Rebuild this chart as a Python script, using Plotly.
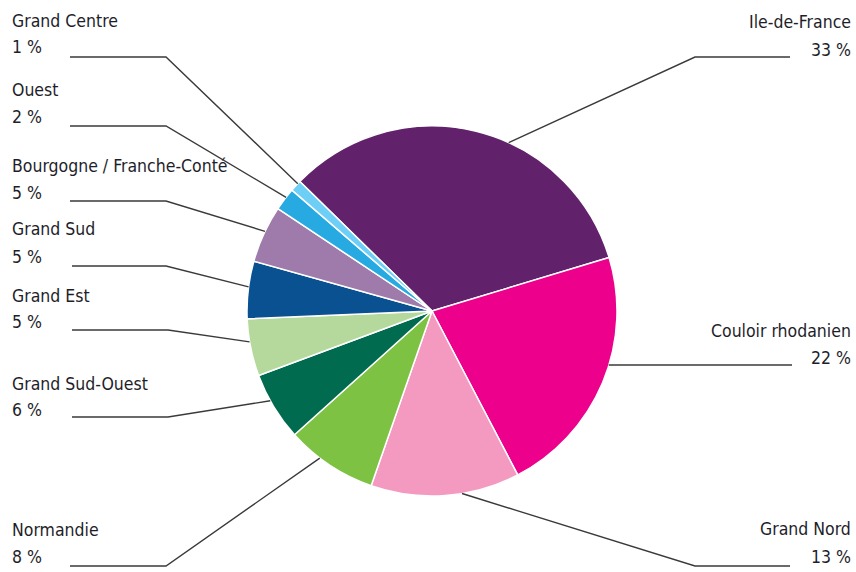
import math
import plotly.graph_objects as go

# ---- data ----
regions = ["Ile-de-France", "Couloir rhodanien", "Grand Nord", "Normandie",
           "Grand Sud-Ouest", "Grand Est", "Grand Sud",
           "Bourgogne / Franche-Conté", "Ouest", "Grand Centre"]
shares = [33, 22, 13, 8, 6, 5, 5, 5, 2, 1]
colors = ["#62226b", "#ec008c", "#f49ac1", "#7dc242", "#006b4f",
          "#b5d99c", "#0a5192", "#9e7bab", "#27aae1", "#6dcff6"]

# ---- layout ----
W, H = 856, 572
CX, CY, R = 432, 311, 185
ROT = -45.6  # start angle of first slice, degrees clockwise from top

# label layout: (side, text x, name y, pct y, line y, elbow x, line end x, anchor fraction in slice)
label_layout = {
    "Grand Centre":              ("left", 10, 21, 47, 57, 166, 70, 0.75),
    "Ouest":                     ("left", 10, 90, 117, 126, 166, 70, 0.6),
    "Bourgogne / Franche-Conté": ("left", 10, 166, 193, 201, 166, 70, 0.55),
    "Grand Sud":                 ("left", 10, 229, 257, 266, 166, 72, 0.55),
    "Grand Est":                 ("left", 10, 296, 322, 330, 168, 72, 0.6),
    "Grand Sud-Ouest":           ("left", 10, 384, 410, 417, 168, 72, 0.6),
    "Normandie":                 ("left", 10, 530, 557, 566, 166, 70, 0.63),
    "Ile-de-France":             ("right", 853, 22, 50, 57, 695, 790, 0.59),
    "Couloir rhodanien":         ("right", 853, 331, 358, 365, None, 792, 0.43),
    "Grand Nord":                ("right", 853, 529, 557, 566, 695, 790, 0.39),
}

def px(x):
    return x / W

def py(y):
    return 1 - y / H

fig = go.Figure(go.Pie(
    labels=regions, values=shares, sort=False, direction="clockwise",
    rotation=ROT, textinfo="none", hoverinfo="label+percent",
    marker=dict(colors=colors, line=dict(color="white", width=1.5)),
    domain=dict(x=[px(CX - R), px(CX + R)], y=[py(CY + R), py(CY - R)]),
    showlegend=False,
))

font = dict(family="'DejaVu Sans Condensed', 'DejaVu Sans', sans-serif",
            size=17.5, color="#1e1e2a")

total = sum(shares)
cum = 0
shapes = []
annotations = []
for name, val in zip(regions, shares):
    a0 = ROT + cum / total * 360
    a1 = ROT + (cum + val) / total * 360
    cum += val
    side, tx, ny, pyv, ly, ex, lx, frac = label_layout[name]
    ang = math.radians(a0 + frac * (a1 - a0))
    sx = CX + R * math.sin(ang)
    sy = CY - R * math.cos(ang)
    if ex is None:
        path = f"M {px(sx)},{py(ly)} L {px(lx)},{py(ly)}"
    else:
        path = f"M {px(sx)},{py(sy)} L {px(ex)},{py(ly)} L {px(lx)},{py(ly)}"
    shapes.append(dict(type="path", xref="paper", yref="paper", path=path,
                       line=dict(color="#3a3a3a", width=1.4)))
    anchor = "left" if side == "left" else "right"
    annotations.append(dict(x=px(tx), y=py(ny), xref="paper", yref="paper",
                            text=name, showarrow=False, xanchor=anchor,
                            yanchor="middle", font=font))
    annotations.append(dict(x=px(tx), y=py(pyv), xref="paper", yref="paper",
                            text=f"{val} %", showarrow=False, xanchor=anchor,
                            yanchor="middle", font=font))

fig.update_layout(width=W, height=H, margin=dict(l=0, r=0, t=0, b=0),
                  paper_bgcolor="white", plot_bgcolor="white",
                  shapes=shapes, annotations=annotations)

fig.write_html("out.html")
